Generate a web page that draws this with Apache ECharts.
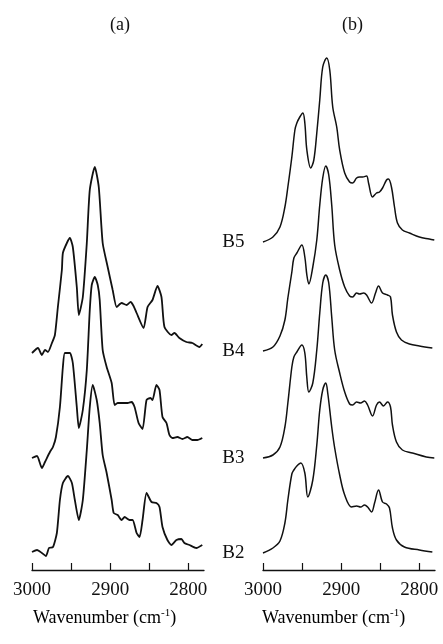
<!DOCTYPE html>
<html><head><meta charset="utf-8">
<script src="https://cdn.jsdelivr.net/npm/echarts@6/dist/echarts.min.js"></script>
<style>html,body{margin:0;padding:0;background:#fff}#c{width:443px;height:644px}</style>
</head><body><div id="c"></div>
<script>
// ---- Panel (a): noisy spectra (wavenumber, relative intensity) ----
const aB4_wn  = [3000,2992.4,2987.3,2983.4,2979.6,2974.5,2970.7,2966.9,2961.8,2960.5,2955.4,2951.6,2947.8,2942.7,2940.1,2935.0,2929.9,2926.1,2919.7,2914.6,2909.6,2903.2,2896.8,2891.7,2885.4,2879.0,2873.9,2870.1,2866.2,2857.3,2852.2,2845.9,2839.5,2834.4,2830.6,2821.7,2817.8,2811.5,2802.5,2794.9,2785.9,2782.2];
const aB4_val = [-6,-1,-8,-3,-5,4,12,40,77,94,104,109,100,60,32,50,104,157,180,160,104,80,57,40,44,42,45,41,34,19,40,47,61,50,20,12,14,9,5,4,0,3];

const aB3_wn  = [3000,2993.6,2987.3,2983.4,2977.1,2973.2,2969.4,2964.3,2960.5,2958.0,2951.6,2947.8,2942.7,2940.1,2935.0,2929.9,2926.1,2923.6,2919.7,2915.9,2913.4,2909.6,2904.5,2898.1,2894.3,2890.4,2884.1,2877.7,2872.6,2868.8,2863.7,2858.6,2853.5,2848.4,2845.9,2840.8,2836.9,2833.1,2828.0,2824.2,2820.4,2814.0,2807.6,2801.3,2794.9,2788.5,2782.2];
const aB3_val = [-18,-16,-28,-22,-12,-7,3,33,73,87,87,77,33,12,30,70,130,155,163,155,140,90,73,57,35,37,37,37,38,33,17,11,40,42,40,55,50,23,17,5,2,3,1,3,0,0,2];

const aB2_wn  = [3000,2993.6,2987.3,2982.2,2978.3,2973.2,2968.2,2964.3,2960.5,2954.1,2949.0,2945.2,2940.1,2935.0,2929.9,2926.1,2922.3,2917.2,2913.4,2909.6,2904.5,2898.1,2895.5,2890.4,2885.4,2881.5,2875.2,2871.3,2866.2,2862.4,2858.6,2853.5,2847.1,2840.8,2836.9,2833.1,2826.8,2821.7,2815.3,2808.9,2805.1,2798.7,2789.8,2782.2];
const aB2_val = [-5,-3,-6,-9,-1,0,14,47,64,71,64,47,27,47,97,140,162,147,124,92,74,47,34,32,27,30,27,27,14,10,27,54,45,44,40,20,7,2,7,8,4,2,-1,2];

// ---- Panel (b): smooth spectra ----
const bB5_wn  = [3000,2987.3,2978.3,2972.0,2968.2,2963.1,2959.2,2956.7,2952.9,2949.0,2946.5,2943.9,2938.9,2935.0,2931.2,2927.4,2923.6,2918.5,2914.6,2910.8,2905.7,2901.9,2895.5,2889.2,2885.4,2880.3,2876.4,2872.6,2867.5,2865.0,2859.9,2854.8,2851.0,2847.1,2842.0,2839.5,2835.7,2831.8,2828.0,2821.7,2812.7,2800.0,2787.3,2780.9];
const bB5_val = [-2,3,13,33,53,83,110,117,123,127,117,90,72,80,107,140,173,182,170,133,113,90,67,58,57,62,63,63,64,57,43,47,48,52,60,61,53,33,17,10,7,3,1,0];

const bB4_wn  = [3000,2987.3,2978.3,2972.0,2968.2,2963.1,2960.5,2956.7,2950.3,2946.5,2943.9,2941.4,2936.3,2931.2,2927.4,2923.6,2919.7,2915.9,2912.1,2908.3,2901.9,2895.5,2889.2,2885.4,2880.3,2876.4,2871.3,2867.5,2861.1,2856.1,2852.2,2847.1,2840.8,2836.9,2834.4,2829.3,2822.9,2812.7,2800.0,2783.4];
const bB4_val = [-2,2,13,29,51,77,91,96,104,92,74,65,82,109,144,171,183,174,144,104,79,62,53,52,56,55,56,54,46,56,63,56,54,52,34,17,9,5,3,1];

const bB3_wn  = [3000,2987.3,2978.3,2972.0,2968.2,2963.1,2960.5,2956.7,2950.3,2946.5,2943.9,2941.4,2936.3,2931.2,2927.4,2923.6,2919.7,2915.9,2912.1,2908.3,2901.9,2895.5,2889.2,2885.4,2880.3,2875.2,2870.1,2866.2,2859.9,2854.8,2851.0,2845.9,2840.8,2836.9,2834.4,2829.3,2821.7,2808.9,2791.1,2780.9];
const bB3_val = [-1,2,10,30,54,90,100,105,112,104,79,65,74,107,144,174,182,174,140,107,84,65,53,52,55,54,56,52,41,52,55,51,55,50,32,15,7,4,0,-1];

const bB2_wn  = [3000,2987.3,2978.3,2972.0,2968.2,2963.1,2960.5,2956.7,2951.6,2946.5,2942.7,2936.3,2931.2,2927.4,2923.6,2919.7,2917.2,2912.1,2908.3,2901.9,2895.5,2886.6,2880.3,2875.2,2870.1,2866.2,2861.1,2857.3,2852.2,2847.1,2842.0,2838.2,2834.4,2829.3,2819.1,2800.0,2783.4];
const bB2_val = [-1,4,11,29,52,78,82,86,89,79,55,72,107,142,162,169,159,125,104,77,57,45,46,45,47,45,40,49,62,50,48,44,24,12,5,2,0];

// vertical stacking offsets (intensity units)
const offsetsA = [223, 130, 23];        // B4, B3, B2
const offsetsB = [330, 221, 113, 18];   // B5, B4, B3, B2
const namesB = ['B5', 'B4', 'B3', 'B2'];

const xTicks = [3000, 2950, 2900, 2850, 2800];
const xLabels = [3000, 2900, 2800];
const panelTitles = ['(a)', '(b)'];
const axisTitle = 'Wavenumber (cm';

const FONT = 'Liberation Serif';
const INK = '#111';

function makeSeries(wn, val, off, idx, label, width, smooth) {
  const data = wn.map((w, i) => [w, off + val[i]]);
  const s = {
    type: 'line', xAxisIndex: idx, yAxisIndex: idx, data: data,
    showSymbol: false, symbol: 'none', smooth: smooth, silent: true,
    lineStyle: { color: INK, width: width }, animation: false
  };
  if (label) {
    s.markPoint = {
      symbol: 'circle', symbolSize: 1, silent: true, animation: false,
      itemStyle: { color: 'rgba(0,0,0,0)' },
      data: [{ coord: data[0] }],
      label: { show: true, position: 'left', distance: 18, offset: [0, 0], formatter: label,
               fontFamily: FONT, fontSize: 19, color: INK }
    };
  }
  return s;
}

const series = [
  makeSeries(aB4_wn, aB4_val, offsetsA[0], 0, null, 1.8, 0.2),
  makeSeries(aB3_wn, aB3_val, offsetsA[1], 0, null, 1.8, 0.2),
  makeSeries(aB2_wn, aB2_val, offsetsA[2], 0, null, 1.8, 0.2),
  makeSeries(bB5_wn, bB5_val, offsetsB[0], 1, namesB[0], 1.5, 0.35),
  makeSeries(bB4_wn, bB4_val, offsetsB[1], 1, namesB[1], 1.5, 0.35),
  makeSeries(bB3_wn, bB3_val, offsetsB[2], 1, namesB[2], 1.5, 0.35),
  makeSeries(bB2_wn, bB2_val, offsetsB[3], 1, namesB[3], 1.5, 0.35)
];

function xAxis(idx) {
  return {
    type: 'value', gridIndex: idx, inverse: true, min: 2780, max: 3000,
    axisLine: { show: true, onZero: false, lineStyle: { color: INK, width: 1.3 } },
    axisTick: { show: true, inside: true, length: 7, customValues: xTicks, lineStyle: { color: INK, width: 1.2 } },
    axisLabel: { show: true, customValues: xLabels, margin: 11, fontFamily: FONT, fontSize: 19, color: INK,
                 formatter: function (v) { return String(v); } },
    splitLine: { show: false }
  };
}
function yAxis(idx) {
  return { type: 'value', gridIndex: idx, min: 0, max: 540, show: false, splitLine: { show: false } };
}

const rich = {
  a: { fontFamily: FONT, fontSize: 18, color: INK },
  s: { fontFamily: FONT, fontSize: 11, color: INK, padding: [0, 0, 9, 0] }
};

const chart = echarts.init(document.getElementById('c'), null, { renderer: 'canvas' });
chart.setOption({
  backgroundColor: '#fff',
  animation: false,
  grid: [
    { left: 32, right: 239, top: 30, bottom: 74 },
    { left: 263, right: 8, top: 30, bottom: 74 }
  ],
  xAxis: [xAxis(0), xAxis(1)],
  yAxis: [yAxis(0), yAxis(1)],
  series: series,
  graphic: [
    { type: 'text', left: 110, top: 16, style: { text: panelTitles[0], font: '18px "' + FONT + '"', fill: INK } },
    { type: 'text', left: 342, top: 16, style: { text: panelTitles[1], font: '18px "' + FONT + '"', fill: INK } },
    { type: 'text', left: 33, top: 608, style: { rich: rich, text: '{a|' + axisTitle + '}{s|-1}{a|)}' } },
    { type: 'text', left: 262, top: 608, style: { rich: rich, text: '{a|' + axisTitle + '}{s|-1}{a|)}' } }
  ]
});
</script></body></html>
